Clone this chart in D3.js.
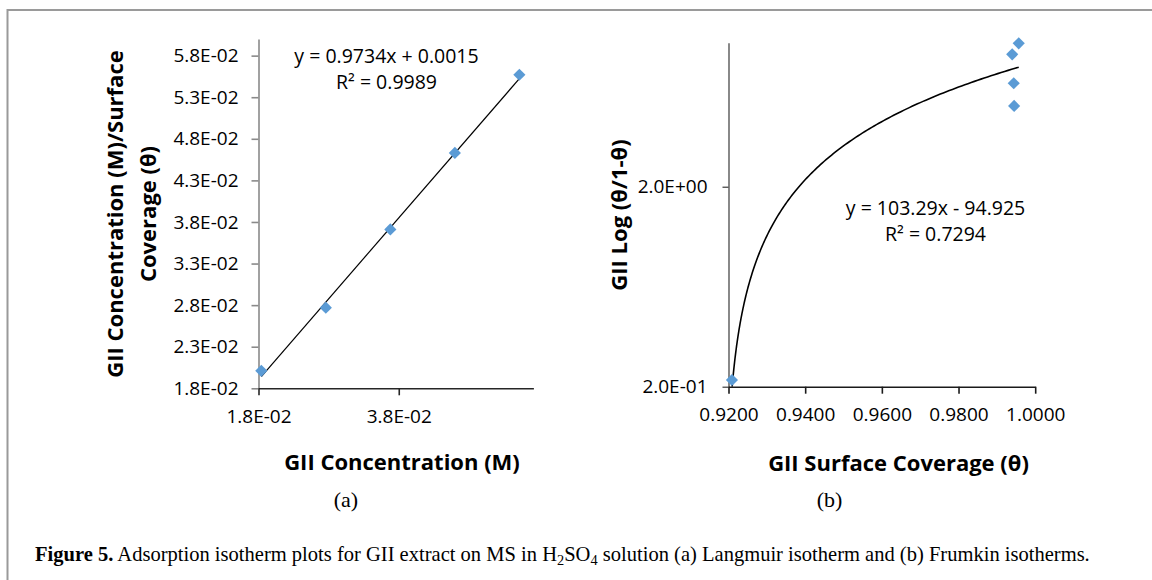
<!DOCTYPE html>
<html>
<head>
<meta charset="utf-8">
<script src="https://cdn.jsdelivr.net/npm/d3@7"></script>
<style>
  body { margin: 0; background: #fff; }
  svg { display: block; }
  .tick text { font-family: "Open Sans", sans-serif; font-size: 19px; fill: #000; }
  .eq { font-family: "Open Sans", sans-serif; font-size: 19.5px; fill: #000; }
  .title { font-family: "Open Sans", sans-serif; font-size: 22px; font-weight: bold; fill: #000; }
  .serif { font-family: "Liberation Serif", "Times New Roman", serif; fill: #000; }
</style>
</head>
<body>
<svg id="fig" width="1152" height="580"></svg>
<script>
// (a) Langmuir: concentration vs C/theta
const concA = [0.0184, 0.0276, 0.0368, 0.0460, 0.0552];
const ratioA = [0.0201, 0.0277, 0.0371, 0.0463, 0.0557];
const yTicksA = [0.018, 0.023, 0.028, 0.033, 0.038, 0.043, 0.048, 0.053, 0.058];
const xTicksA = [0.018, 0.038];
const fitA = [0.9734, 0.0015]; // slope, intercept

// (b) Frumkin: theta vs log(theta/1-theta), log axis
const thetaB = [0.9209, 0.9957, 0.9940, 0.9944, 0.9945];
const logB = [0.216, 10.42, 9.18, 6.58, 5.07];
const xTicksB = [0.92, 0.94, 0.96, 0.98, 1.0];
const yTicksB = [0.2, 2];
const fitB = [103.29, -94.925];

const svg = d3.select("#fig");
const blue = "#5b9bd5";

// excel style 1.8E-02
function sci(v) {
  const [m, e] = d3.format(".1e")(v).split("e");
  const n = +e;
  return m + "E" + (n < 0 ? "-" : "+") + String(Math.abs(n)).padStart(2, "0");
}

// outer frame, only top and left edge show in the crop
svg.append("rect")
  .attr("x", 7.5).attr("y", 10).attr("width", 1300).attr("height", 800)
  .attr("fill", "none").attr("stroke", "#9a9a9a").attr("stroke-width", 2);

function diamond(g, pts, x, y) {
  g.selectAll("path.pt").data(pts).join("path")
    .attr("class", "pt")
    .attr("d", d3.symbol(d3.symbolSquare, 74)())
    .attr("transform", (d) => `translate(${x(d[0])},${y(d[1])}) rotate(45)`)
    .attr("fill", blue);
}

function styleAxis(g, color, w) {
  g.select(".domain").attr("stroke", color).attr("stroke-width", w);
  g.selectAll(".tick line").attr("stroke", color).attr("stroke-width", w);
}

// ---------- panel (a) ----------
const xA = d3.scaleLinear().domain([0.018, 0.0572]).range([258.5, 533.4]);
const yA = d3.scaleLinear().domain([0.018, 0.06]).range([388.3, 39]);

const gA = svg.append("g");

const ayA = gA.append("g").attr("transform", `translate(${xA.range()[0]},0)`)
  .call(d3.axisLeft(yA).tickValues(yTicksA).tickFormat(sci).tickSize(7).tickSizeOuter(0).tickPadding(13));
styleAxis(ayA, "#8a8a8a", 1.6);

const axA = gA.append("g").attr("transform", `translate(0,${yA.range()[0]})`)
  .call(d3.axisBottom(xA).tickValues(xTicksA).tickFormat(sci).tickSize(7).tickSizeOuter(0));
styleAxis(axA, "#262626", 1.6);
axA.selectAll(".tick text").attr("y", 35).attr("dy", 0);

// trendline
const lineA = d3.line().x((d) => xA(d)).y((d) => yA(fitA[0] * d + fitA[1]));
gA.append("path")
  .attr("d", lineA(d3.extent(concA)))
  .attr("fill", "none").attr("stroke", "#000").attr("stroke-width", 1.2);

diamond(gA, concA.map((c, i) => [c, ratioA[i]]), xA, yA);

gA.append("text").attr("class", "eq").attr("x", 386.5).attr("y", 62.5)
  .attr("text-anchor", "middle").text("y = 0.9734x + 0.0015");
gA.append("text").attr("class", "eq").attr("x", 386.5).attr("y", 89)
  .attr("text-anchor", "middle").text("R² = 0.9989");

gA.append("text").attr("class", "title").attr("x", 402).attr("y", 469.5)
  .attr("text-anchor", "middle").text("GII Concentration (M)");

const tA = gA.append("text").attr("class", "title").attr("text-anchor", "middle")
  .attr("transform", "translate(123,214) rotate(-90)");
tA.append("tspan").attr("x", 0).attr("y", 0).text("GII Concentration (M)/Surface");
tA.append("tspan").attr("x", 0).attr("y", 33).text("Coverage (θ)");

gA.append("text").attr("class", "serif").attr("x", 346).attr("y", 506.5)
  .attr("text-anchor", "middle").style("font-size", "22px").text("(a)");

// ---------- panel (b) ----------
const xB = d3.scaleLinear().domain([0.92, 1.0]).range([728.5, 1035.2]);
const yB = d3.scaleLog().domain([0.2, 10.5]).range([386.7, 42.7]);

const gB = svg.append("g");

const ayB = gB.append("g").attr("transform", `translate(${xB.range()[0]},0)`)
  .call(d3.axisLeft(yB).tickValues(yTicksB).tickFormat(sci).tickSize(6).tickSizeOuter(0).tickPadding(15));
styleAxis(ayB, "#3a3a3a", 1.2);

const axB = gB.append("g").attr("transform", `translate(0,${yB.range()[0]})`)
  .call(d3.axisBottom(xB).tickValues(xTicksB).tickFormat(d3.format(".4f")).tickSize(7).tickSizeOuter(0));
styleAxis(axB, "#1a1a1a", 1.6);
axB.selectAll(".tick text").attr("y", 34).attr("dy", 0);

// linear fit drawn on the log axis, clipped at the axis floor
gB.append("clipPath").attr("id", "clipB").append("rect")
  .attr("x", xB.range()[0]).attr("y", yB.range()[1])
  .attr("width", xB.range()[1] - xB.range()[0]).attr("height", yB.range()[0] - yB.range()[1]);

const [t0, t1] = d3.extent(thetaB);
const tStart = Math.max(t0, (yTicksB[0] - fitB[1]) / fitB[0]);
const fitPts = d3.range(0, 201).map((i) => tStart + (t1 - tStart) * (i / 200) ** 2.5);
const lineB = d3.line().x((d) => xB(d)).y((d) => yB(Math.max(0.19, fitB[0] * d + fitB[1])));
gB.append("path")
  .attr("clip-path", "url(#clipB)")
  .attr("d", lineB(fitPts))
  .attr("fill", "none").attr("stroke", "#000").attr("stroke-width", 1.6);

diamond(gB, thetaB.map((t, i) => [t, logB[i]]), xB, yB);

gB.append("text").attr("class", "eq").attr("x", 935.5).attr("y", 215)
  .attr("text-anchor", "middle").text("y = 103.29x - 94.925");
gB.append("text").attr("class", "eq").attr("x", 935.5).attr("y", 241)
  .attr("text-anchor", "middle").text("R² = 0.7294");

gB.append("text").attr("class", "title").attr("x", 898.5).attr("y", 470.5)
  .attr("text-anchor", "middle").text("GII Surface Coverage (θ)");

gB.append("text").attr("class", "title").attr("text-anchor", "middle")
  .attr("transform", "translate(627,215) rotate(-90)").text("GII Log (θ/1-θ)");

gB.append("text").attr("class", "serif").attr("x", 829.5).attr("y", 506.5)
  .attr("text-anchor", "middle").style("font-size", "22px").text("(b)");

// ---------- caption ----------
const cap = svg.append("text").attr("class", "serif").style("font-size", "20px");
cap.append("tspan").style("font-weight", "bold").text("Figure 5.");
cap.append("tspan").text(" Adsorption isotherm plots for GII extract on MS in H");
cap.append("tspan").attr("dy", 4).style("font-size", "14px").text("2");
cap.append("tspan").attr("dy", -4).text("SO");
cap.append("tspan").attr("dy", 4).style("font-size", "14px").text("4");
cap.append("tspan").attr("dy", -4).text(" solution (a) Langmuir isotherm and (b) Frumkin isotherms.");
const capW = cap.node().getBBox().width;
cap.attr("transform", `translate(35,561) scale(${1055 / capW},1)`);
</script>
</body>
</html>
